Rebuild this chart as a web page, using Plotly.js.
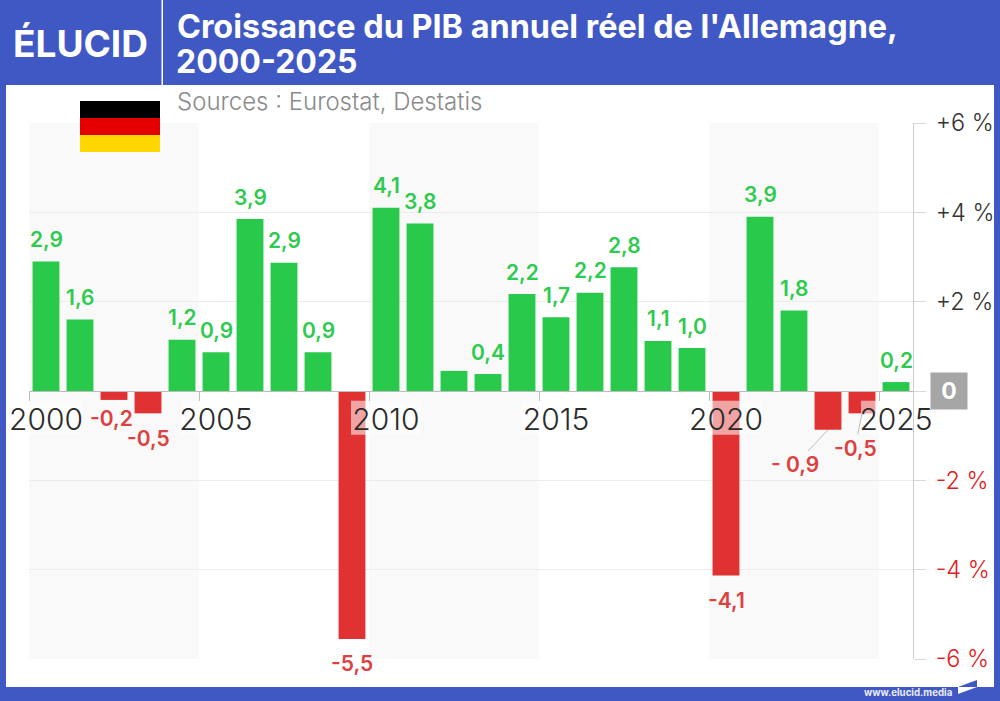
<!DOCTYPE html>
<html><head><meta charset="utf-8">
<script src="https://cdn.plot.ly/plotly-3.0.1.min.js"></script>
<style>html,body{margin:0;padding:0;background:#fff}#c{width:1000px;height:701px}</style>
</head><body><div id="c"></div>
<script>
const years=[2000,2001,2002,2003,2004,2005,2006,2007,2008,2009,2010,2011,2012,2013,2014,2015,2016,2017,2018,2019,2020,2021,2022,2023,2024,2025];
const growth=[2.9,1.6,-0.2,-0.5,1.15,0.87,3.85,2.87,0.87,-5.55,4.1,3.75,0.45,0.38,2.17,1.65,2.2,2.77,1.12,0.96,-4.13,3.9,1.8,-0.87,-0.5,0.2];
const valueLabels=["2,9","1,6","-0,2","-0,5","1,2","0,9","3,9","2,9","0,9","-5,5","4,1","3,8","","0,4","2,2","1,7","2,2","2,8","1,1","1,0","-4,1","3,9","1,8","- 0,9","-0,5","0,2"];
const yearTicks=[2000,2005,2010,2015,2020,2025];
const yTicks=[6,4,2,0,-2,-4,-6];
const yTickText=["+6 %","+4 %","+2 %","","-2 %","-4 %","-6 %"];
const bands=[[1999.5,2004.5],[2009.5,2014.5],[2019.5,2024.5]];
const bandEdges=[1999.5,2004.5,2009.5,2014.5,2019.5,2024.5];

const BLUE='#3f58c4',GREEN='#29c94c',RED='#e03232',LRED='#dd4040',LGREEN='#2fca50';
const F='Inter, "Open Sans", sans-serif';
const L=29,R=913,T=123,B=659;
const px=x=>(x-L)/(R-L), py=y=>(B-y)/(B-T);
const rect=(x0,y0,x1,y1,c,extra)=>Object.assign({type:'rect',xref:'paper',yref:'paper',x0:px(x0),x1:px(x1),y0:py(y0),y1:py(y1),fillcolor:c,line:{width:0},layer:'below'},extra||{});
const poly=(pts,c)=>({type:'path',xref:'paper',yref:'paper',path:'M'+pts.map(p=>px(p[0])+','+py(p[1])).join('L')+'Z',fillcolor:c,line:{width:0},layer:'below'});

const shapes=[
  ...bands.map(b=>({type:'rect',xref:'x',yref:'y',x0:b[0],x1:b[1],y0:-6,y1:6,fillcolor:'#f9f9f9',line:{width:0},layer:'below'})),
  rect(0,0,1000,85,BLUE),rect(0,85,6,701,BLUE),rect(994,85,1000,701,BLUE),rect(0,687,1000,701,BLUE),
  rect(161.5,0,163,85,'#ffffff'),
  rect(80,101,160,118,'#000000',{layer:'above'}),rect(80,118,160,135,'#e50000',{layer:'above'}),rect(80,135,160,152,'#ffd800',{layer:'above'}),
  poly([[958,687],[977,680],[977,687]],BLUE),poly([[958,687],[977,687],[958,694]],'#ffffff')
];

const overrides={2002:{dx:-3,dy:-19},2003:{dx:0,dy:-25}};
const ann=[];
years.forEach((yr,i)=>{
  const t=valueLabels[i]; if(!t) return;
  const v=growth[i], col=v<0?LRED:LGREEN;
  const base={x:yr,y:v,text:t,xref:'x',yref:'y',font:{family:F,size:21,color:col,weight:600},yanchor:'middle',xanchor:'center'};
  if(yr===2023){ann.push(Object.assign(base,{showarrow:true,arrowhead:0,arrowwidth:1,arrowcolor:'#bdbdbd',axref:'pixel',ayref:'pixel',ax:-33,ay:35,standoff:0,startstandoff:0}));return;}
  if(yr===2024){ann.push(Object.assign(base,{showarrow:true,arrowhead:0,arrowwidth:1,arrowcolor:'#bdbdbd',axref:'pixel',ayref:'pixel',ax:-7,ay:35,standoff:0,startstandoff:0}));return;}
  const o=overrides[yr]||{dx:0,dy:v<0?-25:22};
  ann.push(Object.assign(base,{showarrow:false,xshift:o.dx,yshift:o.dy}));
});
ann.push(
 {xref:'paper',yref:'y',x:px(949),y:0,text:'<b>0</b>',showarrow:false,bgcolor:'#a6a6a6',font:{family:F,size:23,color:'#fff'},width:34,height:34,xanchor:'center',yanchor:'middle'},
 {xref:'paper',yref:'paper',x:px(174),y:py(62),text:'<b>2000-2025</b>',showarrow:false,xanchor:'left',yanchor:'middle',font:{family:F,size:32,color:'#fff'}},
 {xref:'paper',yref:'paper',x:px(175),y:py(102),text:'Sources : Eurostat, Destatis',showarrow:false,xanchor:'left',yanchor:'middle',font:{family:F,size:24,color:'#8a8a8a',weight:300}},
 {xref:'paper',yref:'paper',x:px(11),y:py(43),text:'<b>ÉLUCID</b>',showarrow:false,xanchor:'left',yanchor:'middle',font:{family:F,size:37,color:'#fff'}},
 {xref:'paper',yref:'paper',x:px(955),y:py(692),text:'<b>www.elucid.media</b>',showarrow:false,xanchor:'right',yanchor:'middle',font:{family:F,size:9.7,color:'#e8ebf8'}}
);

const traces=[
 {type:'bar',x:years,y:growth,width:0.79,marker:{color:growth.map(v=>v<0?RED:GREEN),line:{width:0}},hoverinfo:'x+y',showlegend:false},
 {type:'bar',x:yearTicks,y:yearTicks.map(()=>-0.76),base:yearTicks.map(()=>-0.22),width:2.06,marker:{color:'rgba(255,255,255,0.55)',line:{width:0}},hoverinfo:'skip',showlegend:false}
];
const layout={
 width:1000,height:701,margin:{l:L,r:1000-R,t:T,b:701-B,pad:0},
 paper_bgcolor:'#fff',plot_bgcolor:'rgba(0,0,0,0)',barmode:'overlay',showlegend:false,
 title:{text:"<b>Croissance du PIB annuel réel de l'Allemagne,</b>",xref:'container',yref:'container',x:0.177,xanchor:'left',y:1-27/701,yanchor:'middle',font:{family:F,size:32.4,color:'#fff'}},
 xaxis:{range:[1999.5,2025.5],anchor:'free',position:0.5,tickmode:'array',tickvals:yearTicks,ticktext:yearTicks.map(String),ticks:'',ticklabelstandoff:2,
   showgrid:false,zeroline:false,showline:true,linecolor:'#bdbdbd',linewidth:1,tickfont:{family:F,size:30,color:'#2b2b2b',weight:300},
   minor:{tickmode:'array',tickvals:bandEdges,ticks:'outside',ticklen:9,tickcolor:'#bdbdbd',tickwidth:1,showgrid:false}},
 yaxis:{range:[-6,6],side:'right',tickmode:'array',tickvals:yTicks,
   ticktext:yTickText.map((t,i)=>yTicks[i]<0?'<span style="color:#e02020">'+t+'</span>':t),
   ticks:'outside',ticklen:12,tickcolor:'#d8d8d8',tickwidth:1,ticklabelstandoff:5,showgrid:true,gridcolor:'#ececec',gridwidth:1,zeroline:false,showline:true,linecolor:'#cccccc',linewidth:1,
   tickfont:{family:F,size:23.5,color:'#333',weight:300}},
 shapes:shapes,annotations:ann
};
Plotly.newPlot('c',traces,layout,{displayModeBar:false,staticPlot:true});
</script></body></html>
